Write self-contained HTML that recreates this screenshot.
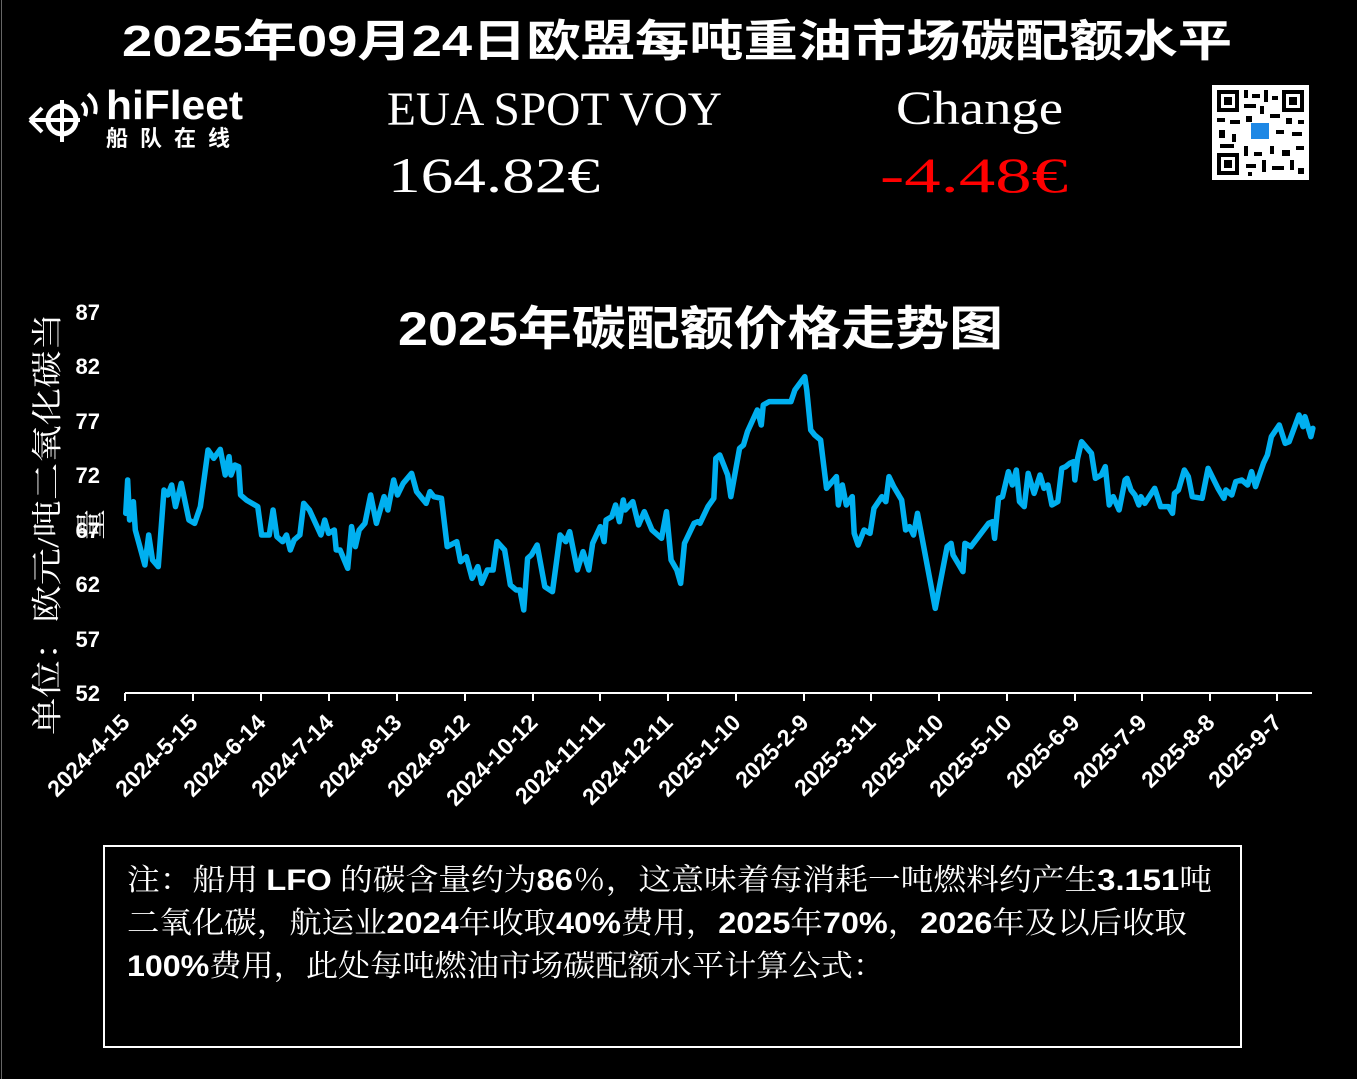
<!DOCTYPE html>
<html><head><meta charset="utf-8"><style>
html,body{margin:0;padding:0;background:#000;}
svg{display:block}
.cj{font-family:"Liberation Sans","Noto Sans CJK SC",sans-serif;}
.sf{font-family:"Liberation Serif","Noto Serif CJK SC",serif;}
.b{font-family:"Liberation Sans",sans-serif;font-weight:bold;}
</style></head><body>
<svg width="1357" height="1079" viewBox="0 0 1357 1079" xmlns="http://www.w3.org/2000/svg">
<rect width="1357" height="1079" fill="#000"/>
<line x1="1.5" y1="0" x2="1.5" y2="1079" stroke="#666" stroke-width="1"/>
<text x="122" y="56" class="cj" font-size="44" font-weight="bold" fill="#fff" textLength="1110" lengthAdjust="spacingAndGlyphs">2025年09月24日欧盟每吨重油市场碳配额水平</text>

<!-- logo -->
<g fill="#fff" stroke="#fff">
<circle cx="62" cy="120" r="14" fill="none" stroke-width="5"/>
<line x1="62" y1="100" x2="62" y2="142" stroke-width="4"/>
<line x1="32" y1="120" x2="80" y2="120" stroke-width="4"/>
<path d="M30 120 L42 108 M30 120 L42 132" stroke-width="4" fill="none"/>
<path d="M82 103 Q88 108 85 116" stroke-width="4" fill="none"/>
<path d="M88 94 Q98 102 95 114" stroke-width="4" fill="none"/>
</g>
<text x="106" y="119" class="b" font-size="41" fill="#fff" textLength="137" lengthAdjust="spacingAndGlyphs">hiFleet</text>
<text x="106" y="146" class="cj" font-size="22" font-weight="bold" fill="#fff" letter-spacing="12">船队在线</text>

<text x="387" y="125" class="sf" font-size="48" fill="#fff" textLength="335" lengthAdjust="spacingAndGlyphs">EUA SPOT VOY</text>
<text x="896" y="124" class="sf" font-size="48" fill="#fff" textLength="167" lengthAdjust="spacingAndGlyphs">Change</text>
<text x="388" y="192" class="sf" font-size="50" fill="#fff" textLength="212" lengthAdjust="spacingAndGlyphs">164.82€</text>
<text x="880" y="192" class="sf" font-size="50" fill="#ff0000" textLength="188" lengthAdjust="spacingAndGlyphs">-4.48€</text>

<!-- QR -->
<rect x="1212" y="85" width="97" height="95" fill="#fff"/>
<g fill="#000">
<rect x="1217" y="90" width="22" height="22"/><rect x="1221" y="94" width="14" height="14" fill="#fff"/><rect x="1224" y="97" width="8" height="8"/>
<rect x="1282" y="90" width="22" height="22"/><rect x="1286" y="94" width="14" height="14" fill="#fff"/><rect x="1289" y="97" width="8" height="8"/>
<rect x="1217" y="153" width="22" height="22"/><rect x="1221" y="157" width="14" height="14" fill="#fff"/><rect x="1224" y="160" width="8" height="8"/>
<rect x="1244" y="90" width="4" height="8"/><rect x="1252" y="94" width="8" height="4"/><rect x="1264" y="90" width="4" height="12"/><rect x="1272" y="96" width="6" height="4"/>
<rect x="1244" y="104" width="12" height="4"/><rect x="1260" y="106" width="4" height="8"/><rect x="1217" y="118" width="8" height="4"/><rect x="1230" y="120" width="10" height="4"/>
<rect x="1246" y="116" width="6" height="6"/><rect x="1270" y="114" width="10" height="4"/><rect x="1286" y="118" width="6" height="6"/><rect x="1298" y="120" width="6" height="4"/>
<rect x="1219" y="130" width="6" height="8"/><rect x="1232" y="134" width="4" height="8"/><rect x="1276" y="130" width="8" height="4"/><rect x="1292" y="132" width="10" height="4"/>
<rect x="1220" y="144" width="14" height="4"/><rect x="1244" y="146" width="4" height="10"/><rect x="1254" y="152" width="8" height="4"/><rect x="1270" y="146" width="4" height="8"/>
<rect x="1282" y="150" width="8" height="6"/><rect x="1296" y="146" width="8" height="4"/><rect x="1246" y="164" width="10" height="4"/><rect x="1262" y="160" width="4" height="12"/>
<rect x="1272" y="166" width="12" height="4"/><rect x="1290" y="160" width="4" height="10"/><rect x="1298" y="168" width="6" height="6"/><rect x="1248" y="172" width="4" height="4"/>
</g>
<rect x="1251" y="123" width="18" height="16" fill="#1e88e5"/>

<text x="398" y="345" class="cj" font-size="47" font-weight="bold" fill="#fff" textLength="605" lengthAdjust="spacingAndGlyphs">2025年碳配额价格走势图</text>

<!-- y labels -->
<g class="b" font-size="22" fill="#fff" text-anchor="end">
<text x="100" y="320">87</text><text x="100" y="374">82</text><text x="100" y="429">77</text><text x="100" y="483">72</text>
<text x="100" y="538">67</text><text x="100" y="592">62</text><text x="100" y="647">57</text><text x="100" y="701">52</text>
</g>
<text transform="translate(58,735) rotate(-90)" class="sf" font-size="31" fill="#fff" textLength="422" lengthAdjust="spacingAndGlyphs">单位：欧元/吨二氧化碳当</text>
<text transform="translate(102,540) rotate(-90)" class="sf" font-size="31" fill="#fff">量</text>

<!-- axis -->
<line x1="125" y1="693" x2="1312" y2="693" stroke="#fff" stroke-width="2"/>
<g stroke="#fff" stroke-width="2">
<line x1="125" y1="693" x2="125" y2="701"/><line x1="193" y1="693" x2="193" y2="701"/><line x1="261" y1="693" x2="261" y2="701"/><line x1="329" y1="693" x2="329" y2="701"/><line x1="397" y1="693" x2="397" y2="701"/><line x1="465" y1="693" x2="465" y2="701"/><line x1="533" y1="693" x2="533" y2="701"/><line x1="600" y1="693" x2="600" y2="701"/><line x1="668" y1="693" x2="668" y2="701"/><line x1="736" y1="693" x2="736" y2="701"/><line x1="804" y1="693" x2="804" y2="701"/><line x1="871" y1="693" x2="871" y2="701"/><line x1="939" y1="693" x2="939" y2="701"/><line x1="1007" y1="693" x2="1007" y2="701"/><line x1="1075" y1="693" x2="1075" y2="701"/><line x1="1142" y1="693" x2="1142" y2="701"/><line x1="1210" y1="693" x2="1210" y2="701"/><line x1="1277" y1="693" x2="1277" y2="701"/>
</g>
<g class="b" font-size="23" fill="#fff" text-anchor="end">
<text transform="translate(131,724) rotate(-45)">2024-4-15</text>
<text transform="translate(199,724) rotate(-45)">2024-5-15</text>
<text transform="translate(267,724) rotate(-45)">2024-6-14</text>
<text transform="translate(335,724) rotate(-45)">2024-7-14</text>
<text transform="translate(403,724) rotate(-45)">2024-8-13</text>
<text transform="translate(471,724) rotate(-45)">2024-9-12</text>
<text transform="translate(539,724) rotate(-45)">2024-10-12</text>
<text transform="translate(606,724) rotate(-45)">2024-11-11</text>
<text transform="translate(674,724) rotate(-45)">2024-12-11</text>
<text transform="translate(742,724) rotate(-45)">2025-1-10</text>
<text transform="translate(810,724) rotate(-45)">2025-2-9</text>
<text transform="translate(877,724) rotate(-45)">2025-3-11</text>
<text transform="translate(945,724) rotate(-45)">2025-4-10</text>
<text transform="translate(1013,724) rotate(-45)">2025-5-10</text>
<text transform="translate(1081,724) rotate(-45)">2025-6-9</text>
<text transform="translate(1148,724) rotate(-45)">2025-7-9</text>
<text transform="translate(1216,724) rotate(-45)">2025-8-8</text>
<text transform="translate(1283,724) rotate(-45)">2025-9-7</text>
</g>

<!-- series -->
<g fill="none" stroke="#00b0f0" stroke-width="5.5" stroke-linejoin="round" stroke-linecap="round">
<path vector-effect="non-scaling-stroke" transform="translate(120,370) scale(0.3827,0.3333)" d="M15 430 L20 330 L25 450 L35 395 L40 480 L65 585 L75 495 L85 570 L100 590 L115 360 L125 375 L135 345 L145 410 L160 340 L180 450 L195 460 L210 410 L230 240 L245 265 L262 238 L275 315 L285 260 L290 315 L300 285 L310 290 L315 375 L330 390 L360 410 L370 495 L390 495 L400 420 L410 500 L425 515 L435 495 L445 540 L455 510 L470 495 L480 400 L495 420 L525 495 L535 450 L545 490 L560 480 L565 540 L575 540 L595 595 L605 470 L615 530 L625 480 L640 460 L655 375 L670 460 L690 380 L700 420 L715 330 L725 375 L740 340 L762 310 L775 365 L800 400 L810 365 L820 380 L840 385 L855 530 L880 515 L890 575 L905 560 L920 625 L935 590 L945 640 L960 600 L975 600 L985 515 L1005 540 L1020 645 L1035 660 L1045 660 L1055 720 L1065 565 L1075 555 L1090 525 L1110 650 L1130 665 L1150 495 L1165 515 L1175 485 L1195 600 L1210 545 L1225 600 L1235 520 L1255 470 L1265 515 L1270 450 L1285 440 L1295 405 L1305 455 L1315 390 L1320 420 L1340 395 L1355 465 L1370 425 L1390 480 L1415 505 L1428 425 L1440 570 L1455 600 L1465 640 L1475 520 L1500 460 L1510 455"/>
<path vector-effect="non-scaling-stroke" transform="translate(700,370) scale(0.3954,0.3333)" d="M0 460 L20 410 L35 385 L40 265 L50 255 L70 315 L78 380 L100 235 L110 225 L120 185 L145 120 L155 165 L160 105 L175 95 L230 95 L240 60 L265 20 L270 60 L280 180 L290 195 L305 210 L320 355 L345 320 L350 405 L360 345 L370 405 L385 380 L390 490 L400 525 L415 480 L430 490 L440 415 L460 380 L470 395 L478 320 L490 350 L510 390 L520 480 L530 470 L540 495 L550 430 L595 715 L625 530 L635 520 L640 555 L665 605 L670 520 L685 530 L730 460 L740 455 L745 505 L755 385 L765 380 L780 305 L790 345 L800 300 L808 395 L820 410 L830 310 L845 370 L860 315 L870 355 L880 345 L890 405 L905 395 L915 295 L925 290 L935 280 L945 275 L948 330 L955 265 L965 215 L990 250 L1000 325 L1015 315 L1025 290 L1035 405 L1045 380 L1060 420 L1075 330 L1080 325 L1090 360 L1100 375 L1110 405 L1115 380 L1125 400 L1150 355 L1165 410 L1185 410 L1195 430 L1200 370 L1210 360 L1225 300 L1235 320 L1245 380 L1270 385 L1285 295 L1310 355 L1325 385 L1330 360 L1345 375 L1355 335 L1370 330 L1385 345 L1395 305 L1405 350 L1425 280 L1435 255 L1445 200 L1465 165 L1480 220 L1490 215 L1515 135 L1525 170 L1530 140 L1545 200 L1550 175"/>
</g>

<!-- note box -->
<rect x="104" y="846" width="1137" height="201" fill="none" stroke="#fff" stroke-width="2"/>
<g font-size="30" fill="#fff" class="sf">
<text x="127" y="890" textLength="1085" lengthAdjust="spacingAndGlyphs">注：船用 <tspan class="b">LFO</tspan> 的碳含量约为<tspan class="b">86</tspan>％，这意味着每消耗一吨燃料约产生<tspan class="b">3.151</tspan>吨</text>
<text x="127" y="933" textLength="1060" lengthAdjust="spacingAndGlyphs">二氧化碳，航运业<tspan class="b">2024</tspan>年收取<tspan class="b">40%</tspan>费用，<tspan class="b">2025</tspan>年<tspan class="b">70%</tspan>，<tspan class="b">2026</tspan>年及以后收取</text>
<text x="127" y="976" textLength="758" lengthAdjust="spacingAndGlyphs"><tspan class="b">100%</tspan>费用，此处每吨燃油市场碳配额水平计算公式：</text>
</g>
</svg>
</body></html>
